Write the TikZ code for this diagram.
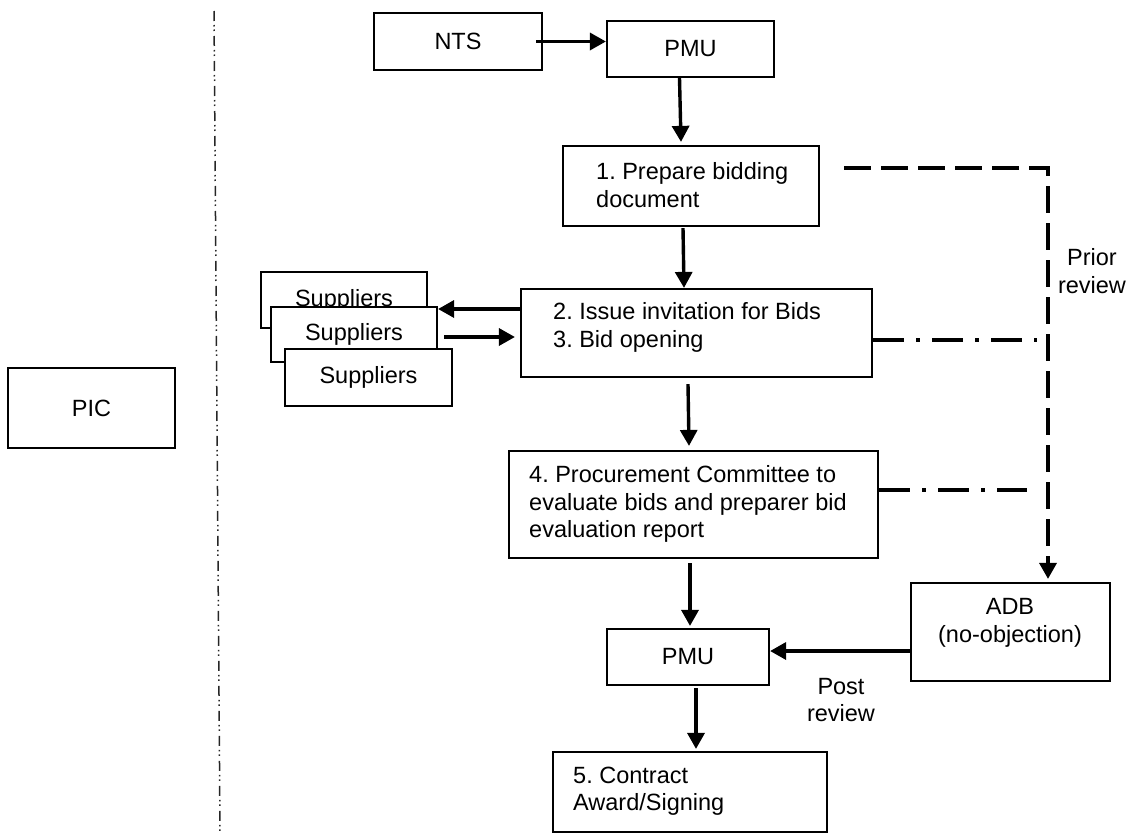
\documentclass[tikz,border=0pt]{standalone}
\usepackage{fontspec}
\setmainfont{Liberation Sans}
\usetikzlibrary{arrows.meta}
\frenchspacing
\begin{document}
\begin{tikzpicture}[x=1pt,y=-1pt,
  every node/.style={font=\fontsize{23.5}{27.5}\selectfont},
  box/.style={draw=black,line width=2.2pt,fill=white,inner sep=0pt},
  txt/.style={inner sep=0pt,align=left,anchor=west},
  lbl/.style={inner sep=0pt,align=center},
  tip/.style={-{Triangle[length=16pt,width=17pt]}},
  arr/.style={line width=3.4pt,tip},
  prior/.style={line width=3.4pt,dash pattern=on 27pt off 10pt,tip},
  review/.style={line width=3.4pt,dash pattern=on 31pt off 12pt on 4pt off 12pt},
  divider/.style={line width=1.5pt,black!85,dash pattern=on 10pt off 4pt on 1.5pt off 3pt on 1.5pt off 5pt}]
\useasboundingbox (0,0) rectangle (1129,835);

% left column and separator
\node[box,minimum width=167pt,minimum height=80pt] (pic) at (91.5,408) {PIC};
\draw[divider] (214,11) -- (220,832);

% top row
\node[box,minimum width=168pt,minimum height=57pt] (nts) at (458,41.5) {NTS};
\node[box,minimum width=167pt,minimum height=56pt] (pmu1) at (690.5,49) {PMU};

% main flow
\node[box,minimum width=256pt,minimum height=80pt] (prep) at (691,186) {};
\node[txt] at (596,185) {1. Prepare bidding\\document};

\node[box,minimum width=351pt,minimum height=88pt] (issue) at (696.5,333) {};
\node[txt] at (553,327.5) {2. Issue invitation for Bids\\3. Bid opening};

\node[box,minimum width=166pt,minimum height=56pt] (s1) at (344,300) {Suppliers};
\node[box,minimum width=166pt,minimum height=55pt] (s2) at (354,334.5) {Suppliers};
\node[box,minimum width=167pt,minimum height=57pt] (s3) at (368.5,377.5) {Suppliers};

\node[box,minimum width=369pt,minimum height=107pt] (proc) at (693.5,504.5) {};
\node[txt] at (529,504) {4. Procurement Committee to\\evaluate bids and preparer bid\\evaluation report};

\node[box,minimum width=162pt,minimum height=56pt] (pmu2) at (688,657) {PMU};

\node[box,minimum width=199pt,minimum height=98pt] (adb) at (1010.5,632) {};
\node[lbl] at (1010,623) {ADB\\(no-objection)};

\node[box,minimum width=274pt,minimum height=80pt] (award) at (690,792) {};
\node[txt] at (573,791) {5. Contract\\Award/Signing};

\node[lbl] at (1092,271) {Prior\\review};
\node[lbl] at (841,700) {Post\\review};

% connectors
\draw[arr] ([xshift=-7pt]nts.east) -- (nts.east -| pmu1.west);
\draw[arr] ([xshift=-11pt]pmu1.south) -- ([xshift=-10pt,yshift=3pt]prep.north);
\draw[arr] ([xshift=-8pt,yshift=-1pt]prep.south) -- ([xshift=-12.5pt]issue.north);
\draw[arr] ([yshift=24pt]issue.west) -- ([yshift=24pt]issue.west -| s2.east);
\draw[arr] ([xshift=6pt,yshift=-2.5pt]s2.east) -- ([xshift=-5pt,yshift=-4pt]issue.west);
\draw[arr] ([xshift=-8.5pt,yshift=-6pt]issue.south) -- ([xshift=-4.5pt,yshift=4pt]proc.north);
\draw[arr] ([xshift=-3.5pt,yshift=-4pt]proc.south) -- ([xshift=2pt,yshift=2pt]pmu2.north);
\draw[arr] ([xshift=8pt,yshift=-2pt]pmu2.south) -- ([xshift=6pt,yshift=2pt]award.north);
\draw[arr] ([yshift=-19pt]adb.west) -- ([yshift=-19pt]adb.west -| pmu2.east);

% review paths
\draw[prior] ([xshift=24pt,yshift=18pt]prep.east) -| ([xshift=37.5pt,yshift=3pt]adb.north);
\coordinate (rv1) at (1037,340);
\coordinate (rv2) at (1027,490);
\draw[review] ([yshift=-7pt]issue.east) -- (rv1);
\draw[review] ([yshift=14.5pt]proc.east) -- (rv2);
\end{tikzpicture}
\end{document}
